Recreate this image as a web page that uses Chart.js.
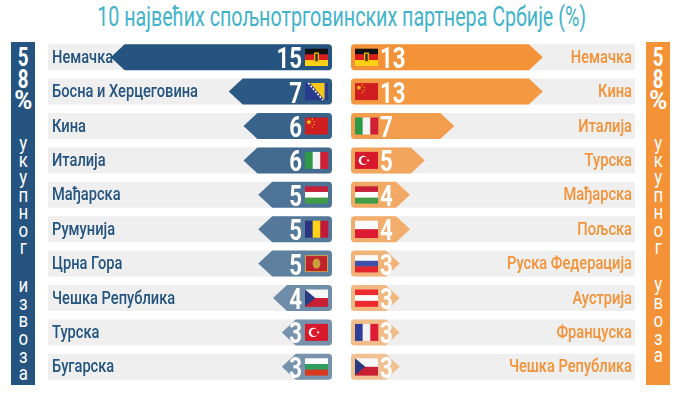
<!DOCTYPE html>
<html lang="sr"><head><meta charset="utf-8">
<script src="https://cdn.jsdelivr.net/npm/chart.js@4"></script>
<style>
html,body{margin:0;padding:0;background:#fff;width:686px;height:402px;overflow:hidden}
body{position:relative;font-family:Roboto,sans-serif}
#title{position:absolute;left:0;width:683px;top:2px;text-align:center;font-size:27px;line-height:30px;color:#41b3ca;font-weight:normal;margin:0;white-space:nowrap}
#title span{display:inline-block;transform-origin:50% 50%}
.panel{position:absolute;top:42px;height:342.5px;width:24.5px;color:#fff}
.panel span{position:absolute;left:0;width:100%;text-align:center;line-height:1}
.big{font-weight:bold;font-size:26px;transform:translateY(-50%) scaleX(.72)}
.pct{font-weight:bold;font-size:25px;transform:translateY(-50%) scaleX(.98)}
.small{font-size:21px;transform:translateY(-50%) scaleX(.8)}
canvas{position:absolute;top:40px}
</style></head><body>
<h1 id="title"><span>10 највећих спољнотрговинских партнера Србије (%)</span></h1>
<div class="panel" id="pl" style="left:10.5px;background:#24547f"></div>
<div class="panel" id="pr" style="left:645.5px;background:#f39237"></div>
<canvas id="left" width="284" height="344" style="left:48px"></canvas>
<canvas id="right" width="284" height="344" style="left:351px"></canvas>
<script>
const exportCategories=["Немачка","Босна и Херцеговина","Кина","Италија","Мађарска","Румунија","Црна Гора","Чешка Република","Турска","Бугарска"];
const exportValues=[15,7,6,6,5,5,5,4,3.4,3.4];
const exportLabels=[15,7,6,6,5,5,5,4,3,3];
const exportFlags=["de","ba","cn","it","hu","ro","me","cz","tr","bg"];
const importCategories=["Немачка","Кина","Италија","Турска","Мађарска","Пољска","Руска Федерација","Аустрија","Француска","Чешка Република"];
const importValues=[13,13,7,5,4,4,3.3,3.3,3.3,3.3];
const importLabels=[13,13,7,5,4,4,3,3,3,3];
const importFlags=["de","cn","it","tr","hu","pl","ru","at","fr","cz"];
const exportColor="#24547f",importColor="#f39237";
const exportFade=[1,.97,.9,.85,.8,.77,.72,.63,.6,.6];
const importFade=[1,.95,.88,.8,.75,.72,.65,.6,.55,.5];
const axisMax=19.25;

function rgba(hex,a){const n=parseInt(hex.slice(1),16);return `rgba(${n>>16},${n>>8&255},${n&255},${a})`}

class ArrowBar extends Chart.BarElement{
  draw(ctx){
    const {x,y,base,height}=this.getProps(["x","y","base","height"]);
    const dir=base>x?1:-1,h=height/2,tip=14,r=4;
    ctx.save();ctx.fillStyle=this.options.backgroundColor;ctx.beginPath();
    ctx.moveTo(x,y);ctx.lineTo(x+dir*tip,y-h);ctx.lineTo(base-dir*r,y-h);
    ctx.quadraticCurveTo(base,y-h,base,y-h+r);ctx.lineTo(base,y+h-r);
    ctx.quadraticCurveTo(base,y+h,base-dir*r,y+h);ctx.lineTo(x+dir*tip,y+h);
    ctx.closePath();ctx.fill();ctx.restore();
  }
}
ArrowBar.id="arrowBar";ArrowBar.defaults=Chart.BarElement.defaults;
class ArrowBarController extends Chart.BarController{}
ArrowBarController.id="arrowBar";
ArrowBarController.defaults=Object.assign({},Chart.BarController.defaults,{dataElementType:"arrowBar"});
ArrowBarController.overrides=Chart.BarController.overrides;
Chart.register(ArrowBar,ArrowBarController);

function star(c,x,y,r,rot){c.beginPath();for(let i=0;i<10;i++){const a=rot+i*Math.PI/5,R=i%2?r*.42:r;c.lineTo(x+R*Math.sin(a),y-R*Math.cos(a))}c.closePath();c.fill()}
function stripes(c,w,h,list,vert){list.forEach((col,i)=>{c.fillStyle=col;
  if(vert)c.fillRect(w*i/list.length,0,w/list.length+.3,h);else c.fillRect(0,h*i/list.length,w,h/list.length+.3)})}
const flags={
 de(c,w,h){stripes(c,w,h,["#111","#dd1c1c","#fcd116"]);c.fillStyle="#e8b400";c.fillRect(w*.39,h*.22,w*.22,h*.58);c.fillStyle="#2a2a2a";c.fillRect(w*.45,h*.3,w*.1,h*.42)},
 ba(c,w,h){c.fillStyle="#2a3a8c";c.fillRect(0,0,w,h);c.fillStyle="#f6c61a";c.beginPath();c.moveTo(w*.22,0);c.lineTo(w*.85,0);c.lineTo(w*.85,h);c.closePath();c.fill();c.strokeStyle="#fff";c.lineWidth=1.5;c.setLineDash([2,1.5]);c.beginPath();c.moveTo(w*.14,0);c.lineTo(w*.78,h);c.stroke();c.setLineDash([])},
 cn(c,w,h){c.fillStyle="#cf1d20";c.fillRect(0,0,w,h);c.fillStyle="#fcd116";star(c,w*.17,h*.27,3,0);[[.32,.1],[.4,.24],[.4,.42],[.32,.55]].forEach(p=>star(c,w*p[0],h*p[1],1,.4))},
 it(c,w,h){stripes(c,w,h,["#2a9a46","#f4f4f4","#cf2136"],true)},
 hu(c,w,h){stripes(c,w,h,["#c8203a","#fff","#3f9d46"])},
 ro(c,w,h){stripes(c,w,h,["#2b3380","#fcd116","#c2193a"],true)},
 me(c,w,h){c.fillStyle="#c8a24a";c.fillRect(0,0,w,h);c.fillStyle="#bf2228";c.fillRect(1,1,w-2,h-2);c.fillStyle="#c9a03c";c.beginPath();c.ellipse(w/2,h/2,w*.17,h*.3,0,0,7);c.fill()},
 cz(c,w,h){stripes(c,w,h,["#f6f6f6","#c81f33"]);c.fillStyle="#2b3a80";c.beginPath();c.moveTo(0,0);c.lineTo(w*.45,h/2);c.lineTo(0,h);c.closePath();c.fill()},
 tr(c,w,h){c.fillStyle="#d8192c";c.fillRect(0,0,w,h);c.fillStyle="#fff";c.beginPath();c.arc(w*.36,h/2,h*.27,0,7);c.fill();c.fillStyle="#d8192c";c.beginPath();c.arc(w*.42,h/2,h*.21,0,7);c.fill();c.fillStyle="#fff";star(c,w*.57,h/2,1.8,1.57)},
 bg(c,w,h){stripes(c,w,h,["#fff","#2f9e5f","#d93a1e"])},
 pl(c,w,h){stripes(c,w,h,["#fbfbfb","#dc1c35"])},
 ru(c,w,h){stripes(c,w,h,["#fafafa","#3e50a8","#e3242b"])},
 at(c,w,h){stripes(c,w,h,["#ee2a2e","#fff","#ee2a2e"])},
 fr(c,w,h){stripes(c,w,h,["#2f3f98","#f2f2f2","#dc1c35"],true)}
};

const labelFont='500 18px Roboto',numberFont='bold 30px Roboto';
const rowDecor={
 id:"rowDecor",
 beforeDatasetsDraw(chart){
   const c=chart.ctx,a=chart.chartArea;
   chart.getDatasetMeta(0).data.forEach(el=>{c.fillStyle="#efefef";c.fillRect(a.left,el.y-13,a.right-a.left,26)});
 },
 afterDatasetsDraw(chart,_,o){
   const c=chart.ctx,a=chart.chartArea,yScale=chart.scales.y;
   c.save();c.font=labelFont;
   const sx=146/c.measureText("Босна и Херцеговина").width;c.restore();
   chart.getDatasetMeta(0).data.forEach((el,i)=>{
     const left=o.side==="left";
     c.save();c.translate(left?a.left+4:a.right-3,el.y+5.5);c.scale(sx,1);
     c.font=labelFont;c.fillStyle=o.color;c.textAlign=left?"left":"right";c.textBaseline="alphabetic";
     c.fillText(yScale.getLabelForValue(i),0,0);c.restore();
     c.save();c.translate(left?a.right-27:a.left+4,el.y-8.5);flags[o.flags[i]](c,23,17);c.restore();
     c.save();c.translate(left?a.right-30:a.left+29,el.y+11);c.scale(.74,1);
     c.fillStyle="#fff";c.font=numberFont;c.textBaseline="alphabetic";c.textAlign=left?"right":"left";
     c.fillText(o.labels[i],0,0);c.restore();
   });
 }
};

function build(id,cats,vals,labels,flagList,color,fade,side){
  new Chart(document.getElementById(id),{
    type:"arrowBar",
    data:{labels:cats,datasets:[{data:vals,barThickness:26,backgroundColor:fade.map(f=>rgba(color,f))}]},
    plugins:[rowDecor],
    options:{
      indexAxis:"y",responsive:false,animation:false,devicePixelRatio:1,
      layout:{padding:0},
      plugins:{legend:{display:false},tooltip:{enabled:false},title:{display:false},rowDecor:{side,labels,flags:flagList,color}},
      scales:{
        x:{type:"linear",display:false,min:0,max:axisMax,reverse:side==="left"},
        y:{type:"category",display:false}
      }
    }
  });
}
build("left",exportCategories,exportValues,exportLabels,exportFlags,exportColor,exportFade,"left");
build("right",importCategories,importValues,importLabels,importFlags,importColor,importFade,"right");

// fit the title to the reference width
(function(){const s=document.querySelector("#title span");const w=s.getBoundingClientRect().width;s.style.transform=`scaleX(${489/w})`})();

function panel(id,rows){const p=document.getElementById(id);rows.forEach(([t,y,cls])=>{const s=document.createElement("span");s.textContent=t;s.className=cls;s.style.top=(y-42)+"px";p.appendChild(s)})}
const topRows=[["5",56.5,"big"],["8",78.5,"big"],["%",99.5,"pct"]];
const wordA=["у","к","у","п","н","о","г"],wordAY=[143,160,177,195,212,230,247];
const wordB=["и","з","в","о","з","а"],wordBY=[285,303,320,338,356,373];
const wordC=["у","в","о","з","а"],wordCY=[284,302,320,338,355];
const mk=(w,y)=>w.map((t,i)=>[t,y[i],"small"]);
panel("pl",[...topRows,...mk(wordA,wordAY),...mk(wordB,wordBY)]);
panel("pr",[...topRows,...mk(wordA,wordAY),...mk(wordC,wordCY)]);
</script>
</body></html>
